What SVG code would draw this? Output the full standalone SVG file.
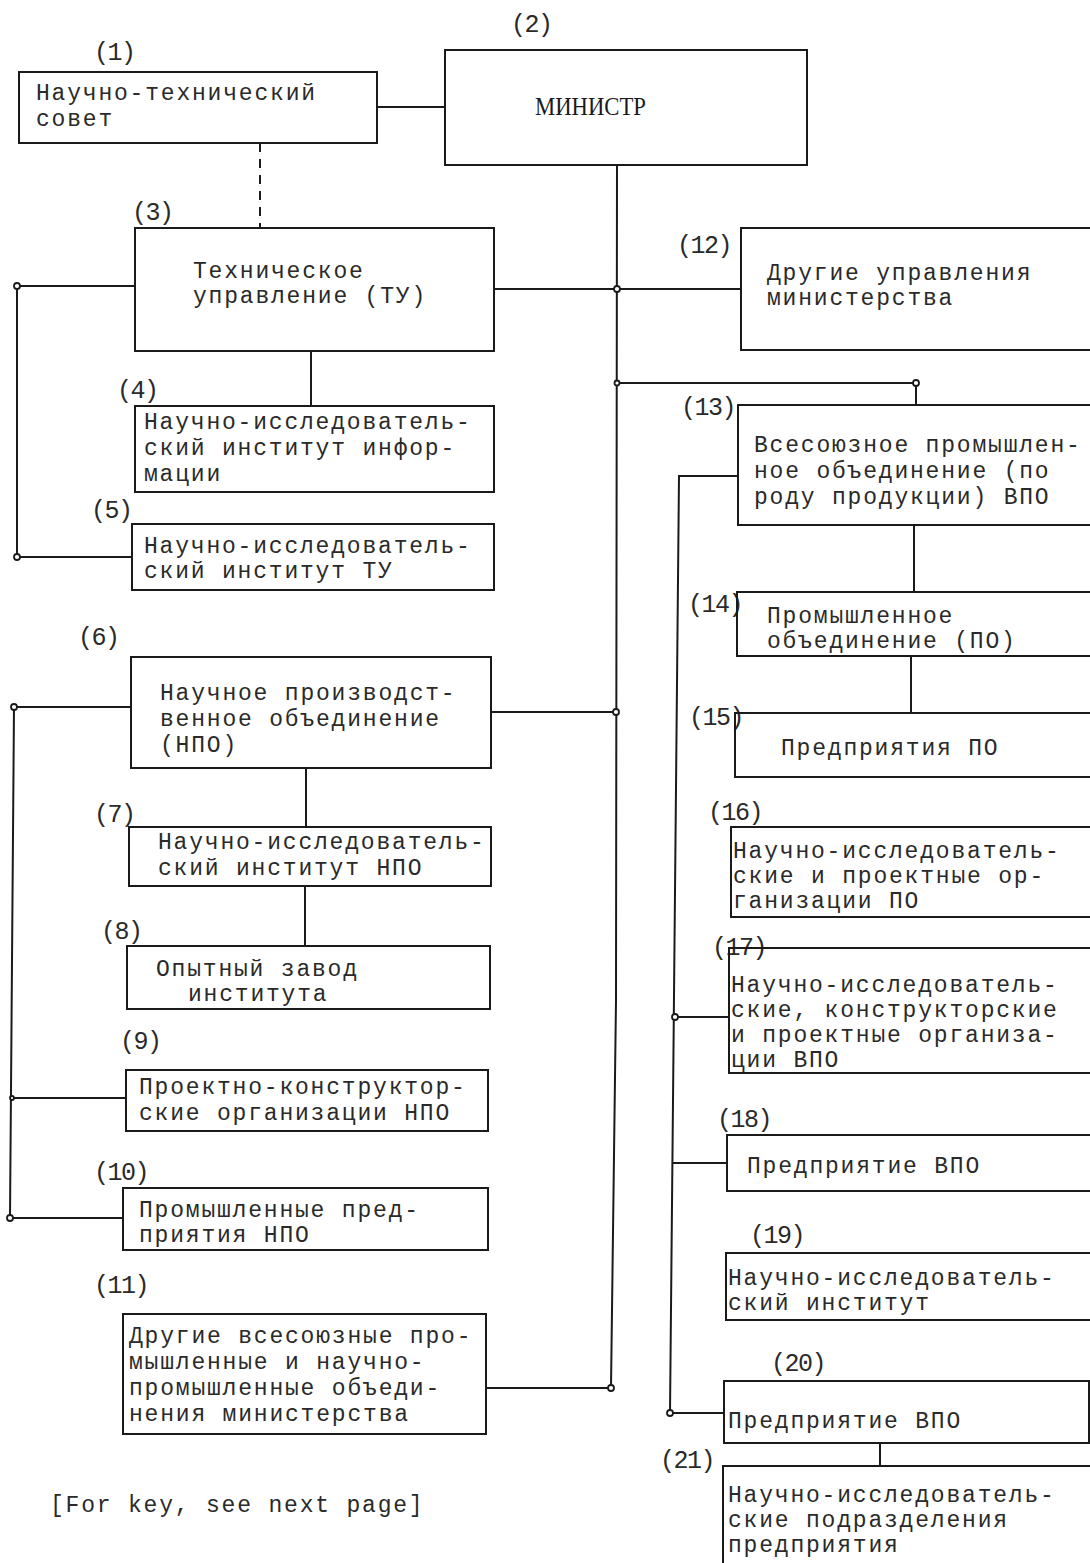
<svg xmlns="http://www.w3.org/2000/svg" width="1090" height="1563" viewBox="0 0 1090 1563">
<style>
.box{fill:none;stroke:#1a1a1a;stroke-width:2}
.ln{fill:none;stroke:#1a1a1a;stroke-width:2}
.dash{stroke-dasharray:9 7}
.dot{fill:#fff;stroke:#1a1a1a;stroke-width:1.8}
.t{font-family:"Liberation Mono","Courier New",monospace;font-size:23px;letter-spacing:1.8px;fill:#2a2a2a}
.n{font-family:"Liberation Mono","Courier New",monospace;font-size:25px;letter-spacing:-1.5px;fill:#2a2a2a}
.m{font-family:"Liberation Serif","Times New Roman",serif;font-size:26px;fill:#1a1a1a}
</style>
<rect width="1090" height="1563" fill="#fff"/>
<g id="connectors">
<path class="ln" d="M377 107H445"/>
<path class="ln dash" d="M260 143V228"/>
<polyline class="ln" points="617,165 616,1000 611,1388"/>
<path class="ln" d="M494 289H741"/>
<path class="ln" d="M617 383H916V405"/>
<path class="ln" d="M491 712H616"/>
<path class="ln" d="M486 1388H611"/>
<path class="ln" d="M135 286H17V557H132"/>
<path class="ln" d="M311 351V406"/>
<path class="ln" d="M131 707H14L10 1218H123"/>
<path class="ln" d="M12 1098H126"/>
<path class="ln" d="M306 768V827"/>
<path class="ln" d="M305 886V946"/>
<path class="ln" d="M738 476H679L670 1413H724"/>
<path class="ln" d="M914 525V592"/>
<path class="ln" d="M911 656V713"/>
<path class="ln" d="M675 1017H729"/>
<path class="ln" d="M673 1163H727"/>
<path class="ln" d="M880 1443V1466"/>
<circle class="dot" cx="17" cy="286" r="3"/>
<circle class="dot" cx="17" cy="557" r="3"/>
<circle class="dot" cx="617" cy="289" r="3"/>
<circle class="dot" cx="617" cy="383" r="2.5"/>
<circle class="dot" cx="916" cy="383" r="3"/>
<circle class="dot" cx="14" cy="707" r="3"/>
<circle class="dot" cx="12" cy="1098" r="2"/>
<circle class="dot" cx="10" cy="1218" r="3"/>
<circle class="dot" cx="616" cy="712" r="3"/>
<circle class="dot" cx="611" cy="1388" r="3"/>
<circle class="dot" cx="675" cy="1017" r="3"/>
<circle class="dot" cx="670" cy="1413" r="3"/>
</g>
<g id="n1"><text class="n" x="94" y="60">(1)</text><rect class="box" x="19" y="72" width="358" height="71"/><text class="t" x="36" y="100">Научно-технический</text><text class="t" x="36" y="126">совет</text></g>
<g id="n2"><text class="n" x="511" y="32">(2)</text><rect class="box" x="445" y="50" width="362" height="115"/><text class="m" x="535" y="115" textLength="111" lengthAdjust="spacingAndGlyphs">МИНИСТР</text></g>
<g id="n3"><text class="n" x="132" y="220">(3)</text><rect class="box" x="135" y="228" width="359" height="123"/><text class="t" x="193" y="278">Техническое</text><text class="t" x="193" y="303">управление (ТУ)</text></g>
<g id="n4"><text class="n" x="117" y="398">(4)</text><rect class="box" x="135" y="406" width="359" height="86"/><text class="t" x="144" y="429">Научно-исследователь-</text><text class="t" x="144" y="455">ский институт инфор-</text><text class="t" x="144" y="481">мации</text></g>
<g id="n5"><text class="n" x="91" y="518">(5)</text><rect class="box" x="132" y="524" width="362" height="66"/><text class="t" x="144" y="553">Научно-исследователь-</text><text class="t" x="144" y="578">ский институт ТУ</text></g>
<g id="n6"><text class="n" x="78" y="645">(6)</text><rect class="box" x="131" y="657" width="360" height="111"/><text class="t" x="160" y="700">Научное производст-</text><text class="t" x="160" y="726">венное объединение</text><text class="t" x="160" y="752">(НПО)</text></g>
<g id="n7"><text class="n" x="94" y="822">(7)</text><rect class="box" x="129" y="827" width="362" height="59"/><text class="t" x="158" y="849">Научно-исследователь-</text><text class="t" x="158" y="875">ский институт НПО</text></g>
<g id="n8"><text class="n" x="101" y="939">(8)</text><rect class="box" x="127" y="946" width="363" height="63"/><text class="t" x="156" y="976">Опытный завод</text><text class="t" x="188" y="1001">института</text></g>
<g id="n9"><text class="n" x="120" y="1049">(9)</text><rect class="box" x="126" y="1070" width="362" height="61"/><text class="t" x="139" y="1094">Проектно-конструктор-</text><text class="t" x="139" y="1120">ские организации НПО</text></g>
<g id="n10"><text class="n" x="94" y="1180">(10)</text><rect class="box" x="123" y="1188" width="365" height="62"/><text class="t" x="139" y="1217">Промышленные пред-</text><text class="t" x="139" y="1242">приятия НПО</text></g>
<g id="n11"><text class="n" x="94" y="1293">(11)</text><rect class="box" x="123" y="1314" width="363" height="120"/><text class="t" x="129" y="1343">Другие всесоюзные про-</text><text class="t" x="129" y="1369">мышленные и научно-</text><text class="t" x="129" y="1395">промышленные объеди-</text><text class="t" x="129" y="1421">нения министерства</text></g>
<g id="n12"><text class="n" x="677" y="253">(12)</text><rect class="box" x="741" y="228" width="360" height="122"/><text class="t" x="767" y="280">Другие управления</text><text class="t" x="767" y="305">министерства</text></g>
<g id="n13"><text class="n" x="681" y="415">(13)</text><rect class="box" x="738" y="405" width="362" height="120"/><text class="t" x="754" y="452">Всесоюзное промышлен-</text><text class="t" x="754" y="478">ное объединение (по</text><text class="t" x="754" y="504">роду продукции) ВПО</text></g>
<g id="n14"><text class="n" x="688" y="612">(14)</text><rect class="box" x="737" y="592" width="363" height="64"/><text class="t" x="767" y="623">Промышленное</text><text class="t" x="767" y="648">объединение (ПО)</text></g>
<g id="n15"><text class="n" x="689" y="725">(15)</text><rect class="box" x="735" y="713" width="365" height="64"/><text class="t" x="781" y="755">Предприятия ПО</text></g>
<g id="n16"><text class="n" x="708" y="820">(16)</text><rect class="box" x="731" y="827" width="369" height="90"/><text class="t" x="733" y="858">Научно-исследователь-</text><text class="t" x="733" y="883">ские и проектные ор-</text><text class="t" x="733" y="908">ганизации   ПО</text></g>
<g id="n17"><text class="n" x="712" y="955">(17)</text><rect class="box" x="729" y="948" width="371" height="125"/><text class="t" x="731" y="992">Научно-исследователь-</text><text class="t" x="731" y="1017">ские, конструкторские</text><text class="t" x="731" y="1042">и проектные организа-</text><text class="t" x="731" y="1067">ции ВПО</text></g>
<g id="n18"><text class="n" x="717" y="1127">(18)</text><rect class="box" x="727" y="1135" width="373" height="56"/><text class="t" x="747" y="1173">Предприятие ВПО</text></g>
<g id="n19"><text class="n" x="750" y="1243">(19)</text><rect class="box" x="726" y="1253" width="374" height="67"/><text class="t" x="728" y="1285">Научно-исследователь-</text><text class="t" x="728" y="1310">ский институт</text></g>
<g id="n20"><text class="n" x="771" y="1371">(20)</text><rect class="box" x="724" y="1381" width="365" height="62"/><text class="t" x="728" y="1428">Предприятие ВПО</text></g>
<g id="n21"><text class="n" x="660" y="1468">(21)</text><rect class="box" x="723" y="1466" width="377" height="120"/><text class="t" x="728" y="1502">Научно-исследователь-</text><text class="t" x="728" y="1527">ские подразделения</text><text class="t" x="728" y="1552">предприятия</text></g>
<text class="t" x="50" y="1512">[For key, see next page]</text>
</svg>
